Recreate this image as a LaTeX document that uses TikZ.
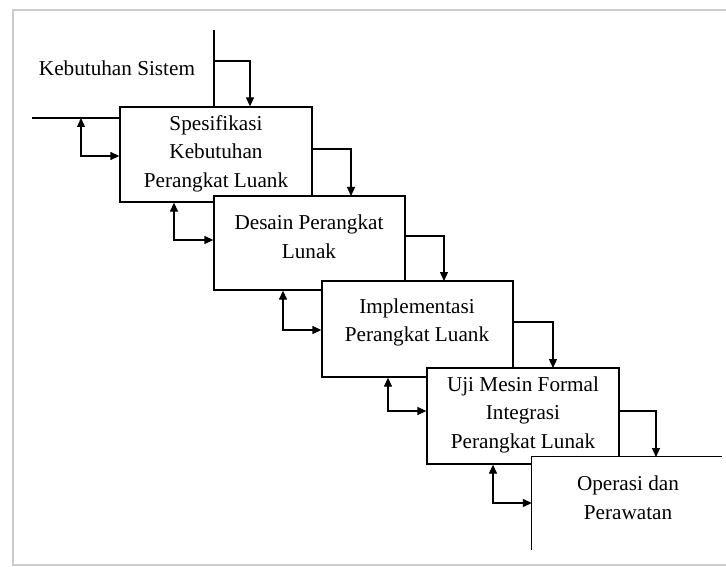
\documentclass[tikz,border=0pt]{standalone}
\usepackage{fontspec}
\setmainfont{Liberation Serif}
\usetikzlibrary{arrows.meta}
\begin{document}
\begin{tikzpicture}[x=1pt,y=-1pt,
  every node/.style={font=\fontsize{21.2}{28.5}\selectfont},
  ln/.style={line width=1.3pt},
  box/.style={draw, fill=white, line width=1.3pt, inner sep=0pt, rectangle},
  txt/.style={align=center, inner sep=0pt},
  arr/.style={ln, -{Triangle[length=9pt,width=8pt]}},
  dbl/.style={ln, {Triangle[length=9pt,width=8pt]}-{Triangle[length=9pt,width=8pt]}},
  frame/.style={draw=black!20, line width=2.5pt}]
\useasboundingbox (0,0) rectangle (726,567);
\fill[white] (0,0) rectangle (726,567);
\draw[frame] (726,10) -- (13,10) -- (13,565) -- (726,565);

% Box 1
\node[box, minimum width=192pt, minimum height=95pt] (b1) at (216,154.5) {};
\node[txt] (t1) at (216,153.5) {Spesifikasi\\Kebutuhan\\Perangkat Luank};
\node[txt] (t0) at (117,68) {Kebutuhan Sistem};
\coordinate (topin) at (214,30);
\coordinate (tbr) at (214,61);
\coordinate (tdn) at (250,61);
\draw[ln] (topin) -- (topin |- b1.north);
\draw[arr] (tbr) -- (tdn) -- (tdn |- b1.north);
\coordinate (leftin) at (32,118);
\coordinate (fb1) at (81,118);
\coordinate (fy1) at (0,156);
\draw[ln] (leftin) -- (leftin -| b1.west);
\draw[dbl] (fb1) |- (b1.west |- fy1);

% Box 2
\coordinate (o1) at (351,149);
\draw[arr] (b1.east |- o1) -- (o1) -- (351,196);
\coordinate (fb2) at (174,240);
\node[box, minimum width=191pt, minimum height=94pt] (b2) at (309.5,243) {};
\node[txt] (t2) at (309,236.5) {Desain Perangkat\\Lunak};
\draw[dbl] (fb2 |- b1.south) |- (b2.west |- fb2);

% Box 3
\coordinate (o2) at (444,236);
\draw[arr] (b2.east |- o2) -- (o2) -- (444,281);
\node[box, minimum width=191pt, minimum height=96pt] (b3) at (417.5,329) {};
\node[txt] (t3) at (417,322.5) {Implementasi\\Perangkat Luank};
\coordinate (fb3) at (283,330);
\draw[dbl] (fb3 |- b2.south) |- (b3.west |- fb3);

% Box 4
\coordinate (o3) at (553,322);
\draw[arr] (b3.east |- o3) -- (o3) -- (553,368);
\node[box, minimum width=192pt, minimum height=96pt] (b4) at (523,416) {};
\node[txt] (t4) at (523,414.5) {Uji Mesin Formal\\Integrasi\\Perangkat Lunak};
\coordinate (fb4) at (388,411);
\draw[dbl] (fb4 |- b3.south) |- (b4.west |- fb4);

% Box 5
\coordinate (o4) at (656,411);
\draw[arr] (b4.east |- o4) -- (o4) -- (656,457);
\node[fill=white, inner sep=0pt, minimum width=190pt, minimum height=93pt] (b5) at (627,503.5) {};
\draw[ln] (b5.south west) -- (b5.north west) -- (b5.north east);
\node[txt] (t5) at (628,497.5) {Operasi dan\\Perawatan};
\coordinate (fb5) at (493,503);
\draw[dbl] (fb5 |- b4.south) |- (b5.west |- fb5);
\end{tikzpicture}
\end{document}
